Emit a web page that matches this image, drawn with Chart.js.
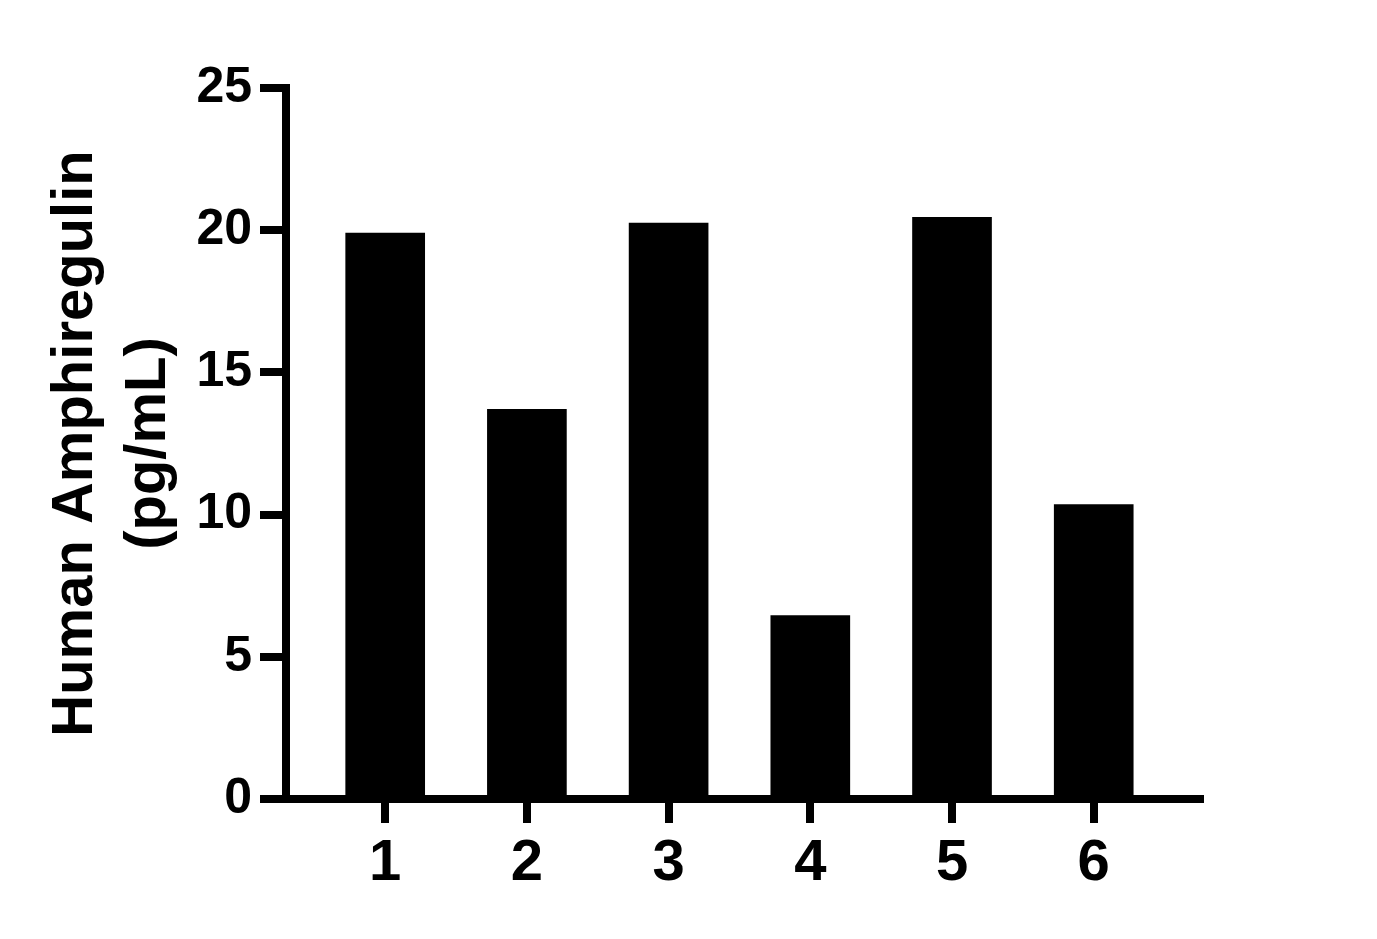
<!DOCTYPE html>
<html>
<head>
<meta charset="utf-8">
<script src="https://cdn.jsdelivr.net/npm/chart.js@4"></script>
<style>
  html, body { margin: 0; padding: 0; background: #fff; }
  #wrap { width: 1377px; height: 939px; }
</style>
</head>
<body>
<div id="wrap"><canvas id="chart"></canvas></div>
<script>
// values
const groups = [1, 2, 3, 4, 5, 6];
const amphiregulin = [19.9, 13.7, 20.25, 6.45, 20.45, 10.35];
const yTicks = [0, 5, 10, 15, 20, 25];

const points = groups.map((g, i) => ({ x: g, y: amphiregulin[i] }));

new Chart(document.getElementById('chart'), {
  type: 'bar',
  data: {
    datasets: [{
      data: points,
      backgroundColor: '#000',
      borderWidth: 0,
      barThickness: 79
    }]
  },
  options: {
    responsive: true,
    maintainAspectRatio: false,
    animation: false,
    layout: { padding: { top: 88, right: 177, left: 0, bottom: 0 } },
    plugins: { legend: { display: false }, tooltip: { enabled: false } },
    scales: {
      x: {
        type: 'linear',
        min: 0.3,
        max: 6.75,
        offset: false,
        afterBuildTicks: s => { s.ticks = groups.map(v => ({ value: v })); },
        afterFit: s => { s.height = 140; },
        border: { color: '#000', width: 8 },
        grid: { offset: false, drawOnChartArea: false, color: '#000', lineWidth: 8, tickLength: 24 },
        ticks: { color: '#000', padding: 6, font: { family: 'Liberation Sans', size: 58, weight: 'bold' } }
      },
      y: {
        min: 0,
        max: 25,
        afterBuildTicks: s => { s.ticks = yTicks.map(v => ({ value: v })); },
        afterFit: s => { s.width = 286; },
        border: { color: '#000', width: 8 },
        grid: { drawOnChartArea: false, color: '#000', lineWidth: 8, tickLength: 26 },
        ticks: { color: '#000', padding: 8, font: { family: 'Liberation Sans', size: 50, weight: 'bold' } },
        title: {
          display: true,
          text: ['Human Amphiregulin', '(pg/mL)'],
          color: '#000',
          padding: { top: 40, bottom: 0 },
          font: { family: 'Liberation Sans', size: 58, weight: 'bold', lineHeight: 1.25 }
        }
      }
    }
  }
});
</script>
</body>
</html>
